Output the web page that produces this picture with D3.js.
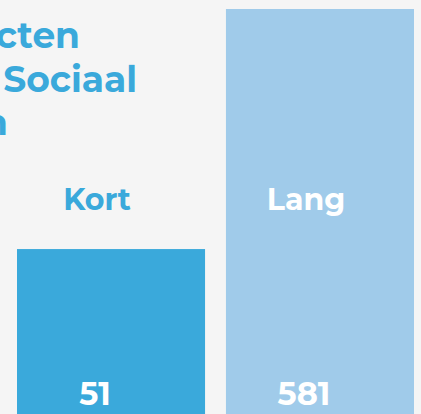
<!DOCTYPE html>
<html>
<head>
<meta charset="utf-8">
<script src="https://cdn.jsdelivr.net/npm/d3@7"></script>
<style>
  html, body { margin: 0; padding: 0; background: #f5f5f5; overflow: hidden; }
  svg { display: block; font-family: "Montserrat", "Lato", sans-serif; font-weight: 700; }
</style>
</head>
<body>
<div id="chart"></div>
<script>
const categories = ["Kort", "Lang"];
const values = [51, 581];
const titleLines = ["Aantal contacten", "Team Sociaal", "Domein"];

const width = 421;
const height = 414;
const blue = "#3aa9db";
const lightBlue = "#a0cbea";
const colors = [blue, lightBlue];
const labelColors = [blue, "#ffffff"];

const svg = d3.select("#chart").append("svg")
  .attr("width", width)
  .attr("height", height);

svg.append("rect").attr("width", width).attr("height", height).attr("fill", "#f5f5f5");

const x = d3.scaleBand()
  .domain(categories)
  .range([17, 414])
  .paddingInner(0.1)
  .paddingOuter(0);

// bars are sized on a log scale
const y = d3.scaleLog()
  .domain([1, 581])
  .range([637, 9]);

const data = categories.map((c, i) => ({ cat: c, value: values[i], i }));

svg.append("g").attr("class", "bars")
  .selectAll("rect")
  .data(data)
  .join("rect")
  .attr("x", (d) => x(d.cat))
  .attr("y", (d) => y(d.value))
  .attr("width", x.bandwidth())
  .attr("height", (d) => y(1) - y(d.value))
  .attr("fill", (d) => colors[d.i]);

svg.append("g").attr("class", "cat-labels")
  .selectAll("text")
  .data(data)
  .join("text")
  .attr("x", (d) => x(d.cat) + x.bandwidth() / 2 - 14)
  .attr("y", 210)
  .attr("text-anchor", "middle")
  .attr("font-size", 30)
  .attr("fill", (d) => labelColors[d.i])
  .text((d) => d.cat);

svg.append("g").attr("class", "value-labels")
  .selectAll("text")
  .data(data)
  .join("text")
  .attr("x", (d) => x(d.cat) + x.bandwidth() / 2 - 16)
  .attr("y", 405)
  .attr("text-anchor", "middle")
  .attr("font-size", 32)
  .attr("fill", "#ffffff")
  .text((d) => d3.format("d")(d.value));

// title, cut off at the left edge as in the original crop
const titleEnds = [80, 137, 8];
svg.append("g").attr("class", "title")
  .selectAll("text")
  .data(titleLines)
  .join("text")
  .attr("x", (d, i) => titleEnds[i])
  .attr("y", (d, i) => 48 + i * 43.5)
  .attr("text-anchor", "end")
  .attr("font-size", 36)
  .attr("fill", blue)
  .text((d) => d);
</script>
</body>
</html>
